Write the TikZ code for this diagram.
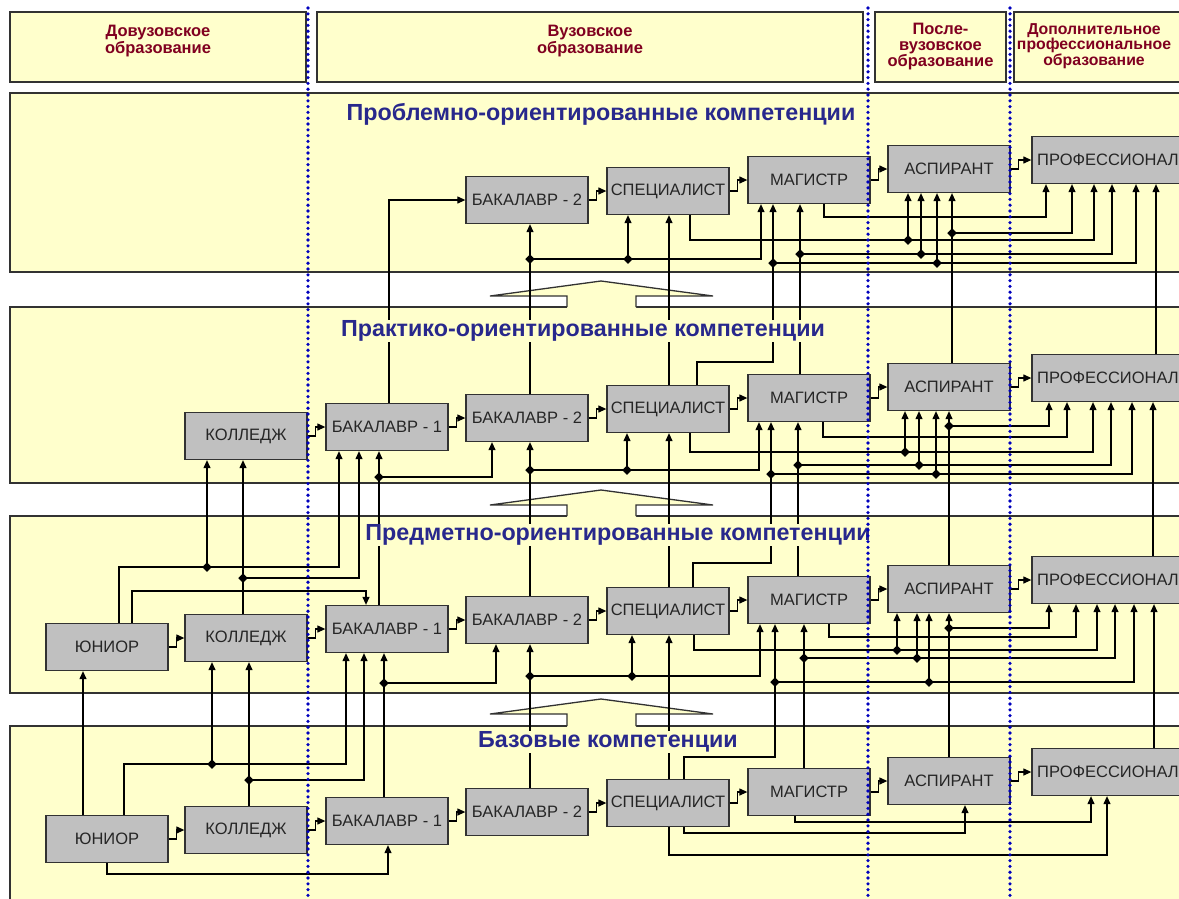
\documentclass[tikz,border=0pt]{standalone}
\usepackage{fontspec}
\setmainfont{Liberation Sans}
\usetikzlibrary{arrows.meta,shapes.geometric}

\definecolor{bandfill}{RGB}{255,255,204}
\definecolor{boxfill}{RGB}{192,192,192}
\definecolor{edge}{RGB}{50,50,50}
\definecolor{hdrred}{RGB}{128,0,32}
\definecolor{titleblue}{RGB}{40,40,140}
\definecolor{dotblue}{RGB}{0,0,190}

\tikzset{
  band/.style={draw=edge,line width=1.4pt,fill=bandfill},
  hdrbox/.style={draw=edge,line width=1.4pt,fill=bandfill,minimum height=70pt,inner sep=0pt},
  hdrtext/.style={font=\bfseries\fontsize{16.5}{15.5}\selectfont,text=hdrred,align=center,anchor=north,inner sep=0pt},
  stage/.style={draw=edge,line width=1.3pt,fill=boxfill,minimum width=122pt,minimum height=47pt,
    inner sep=0pt,text=black!85,font=\fontsize{16.5}{18}\selectfont},
  link/.style={line width=1.2pt,-{Triangle[length=8pt,width=7pt]}},
  junc/.style={diamond,fill=black,inner sep=0pt,minimum size=10pt},
  bandtitle/.style={font=\bfseries\fontsize{23.3}{25}\selectfont,text=titleblue,fill=bandfill,inner sep=1pt},
  sepline/.style={dotblue,line width=3.6pt,line cap=round,dash pattern=on 0pt off 5.8pt},
}

\begin{document}
\begin{tikzpicture}[x=1pt,y=-1pt]
\useasboundingbox (0,0) rectangle (1179,898);
\clip (0,0) rectangle (1179,898);
\fill[white] (0,0) rectangle (1179,898);

% Header row
\node[hdrbox,minimum width=296pt] (pre) at (158,47) {};
\node[hdrbox,minimum width=546pt] (uni) at (590,47) {};
\node[hdrbox,minimum width=131pt] (post) at (940.5,47) {};
\node[hdrbox,minimum width=174pt] (extra) at (1101,47) {};
\node[hdrtext] at (pre.north |- 0,25) {Довузовское\\образование};
\node[hdrtext] at (uni.north |- 0,25) {Вузовское\\образование};
\node[hdrtext] at (post.north |- 0,23) {После-\\вузовское\\образование};
\node[hdrtext,font=\bfseries\fontsize{15.8}{15.5}\selectfont] at (1094,23)
  {Дополнительное\\профессиональное\\образование};

% Competence bands
\foreach \top/\bot in {93/272,307/483,516/693,726/910}
  \draw[band] (10,\top) rectangle (1195,\bot);

% Hollow arrows between bands
\foreach \tip/\base in {281/307,490/516,699/726}{
  \fill[bandfill] (490,\tip+15) -- (601,\tip) -- (713,\tip+15) -- (636,\tip+15)
    -- (636,\base+1) -- (567,\base+1) -- (567,\tip+15) -- cycle;
  \draw[edge,line width=1.3pt] (567,\base) -- (567,\tip+15) -- (490,\tip+15) -- (601,\tip)
    -- (713,\tip+15) -- (636,\tip+15) -- (636,\base);
}

% Stages
\foreach \band/\y in {a/200,b/418,c/620,d/812}{
  \node[stage] (bak2-\band) at (527,\y) {БАКАЛАВР - 2};
  \node[stage] (spec-\band) at (668,\y-9) {СПЕЦИАЛИСТ};
  \node[stage] (mag-\band) at (809,\y-20) {МАГИСТР};
  \node[stage] (asp-\band) at (949,\y-31) {АСПИРАНТ};
  \node[stage,minimum width=152pt] (prof-\band) at (1108,\y-40) {ПРОФЕССИОНАЛ};
}
\foreach \band/\y in {b/418,c/620,d/812}{
  \node[stage] (bak1-\band) at (387,\y+9) {БАКАЛАВР - 1};
  \node[stage] (col-\band) at (246,\y+18) {КОЛЛЕДЖ};
}
\foreach \band/\y in {c/620,d/812}
  \node[stage] (jun-\band) at (107,\y+27) {ЮНИОР};

% Steps inside a band
\foreach \band in {a,b,c,d}
  \foreach \src/\dst in {bak2/spec,spec/mag,mag/asp,asp/prof}
    \draw[link] (\src-\band.east) -- ++(8,0) |- (\dst-\band.west);
\foreach \band in {b,c,d}
  \foreach \src/\dst in {col/bak1,bak1/bak2}
    \draw[link] (\src-\band.east) -- ++(8,0) |- (\dst-\band.west);
\foreach \band in {c,d}
  \draw[link] (jun-\band.east) -- ++(8,0) |- (col-\band.west);

% Problem-oriented band
\draw[link] (bak1-b.north -| 389,0) |- (bak2-a.west);
\draw[link] (bak2-b.north -| 530,0) -- (bak2-a.south -| 530,0);
\draw[link] (530,259) node[junc]{} -| (spec-a.south -| 628,0);
\draw[link] (628,259) node[junc]{} -| (mag-a.south -| 761,0);
\draw[link] (spec-b.north -| 669,0) -- (spec-a.south -| 669,0);
\draw[link] (spec-b.north -| 697,0) |- (773,362) -- (mag-a.south -| 773,0);
\draw[link] (773,263) node[junc]{} -| (asp-a.south -| 937,0);
\draw[link] (937,263) node[junc]{} -| (prof-a.south -| 1136,0);
\draw[link] (mag-b.north -| 800,0) -- (mag-a.south -| 800,0);
\draw[link] (800,254) node[junc]{} -| (asp-a.south -| 921,0);
\draw[link] (921,254) node[junc]{} -| (prof-a.south -| 1112,0);
\draw[link] (asp-b.north -| 952,0) -- (asp-a.south -| 952,0);
\draw[link] (952,233) node[junc]{} -| (prof-a.south -| 1072,0);
\draw[link] (prof-b.north -| 1156,0) -- (prof-a.south -| 1156,0);
\draw[link] (mag-a.south -| 824,0) |- (1046,217) -- (prof-a.south -| 1046,0);
\draw[link] (spec-a.south -| 690,0) |- (1094,240) -- (prof-a.south -| 1094,0);
\draw[link] (908,240) node[junc]{} -- (asp-a.south -| 908,0);

% Practice-oriented band
\draw[link] (asp-c.north -| 949,0) -- (asp-b.south -| 949,0);
\draw[link] (949,426) node[junc]{} -| (prof-b.south -| 1049,0);
\draw[link] (mag-b.south -| 823,0) |- (1067,437) -- (prof-b.south -| 1067,0);
\draw[link] (spec-b.south -| 690,0) |- (1093,452) -- (prof-b.south -| 1093,0);
\draw[link] (905,452) node[junc]{} -- (asp-b.south -| 905,0);
\draw[link] (mag-c.north -| 798,0) -- (mag-b.south -| 798,0);
\draw[link] (798,465) node[junc]{} -| (asp-b.south -| 919,0);
\draw[link] (919,465) node[junc]{} -| (prof-b.south -| 1111,0);
\draw[link] (bak2-c.north -| 530,0) -- (bak2-b.south -| 530,0);
\draw[link] (530,470) node[junc]{} -| (spec-b.south -| 627,0);
\draw[link] (627,470) node[junc]{} -| (mag-b.south -| 759,0);
\draw[link] (spec-c.north -| 669,0) -- (spec-b.south -| 669,0);
\draw[link] (spec-c.north -| 693,0) |- (771,563) -- (mag-b.south -| 771,0);
\draw[link] (771,474) node[junc]{} -| (asp-b.south -| 936,0);
\draw[link] (936,474) node[junc]{} -| (prof-b.south -| 1132,0);
\draw[link] (prof-c.north -| 1153,0) -- (prof-b.south -| 1153,0);
\draw[link] (bak1-c.north -| 379,0) -- (bak1-b.south -| 379,0);
\draw[link] (379,477) node[junc]{} -| (bak2-b.south -| 492,0);
\draw[link] (col-c.north -| 243,0) -- (col-b.south -| 243,0);
\draw[link] (243,578) node[junc]{} -| (bak1-b.south -| 359,0);
\draw[link] (jun-c.north -| 119,0) |- (339,567) -- (bak1-b.south -| 339,0);
\draw[link] (207,567) node[junc]{} -- (col-b.south -| 207,0);
\draw[link] (jun-c.north -| 132,0) |- (366,591) -- (bak1-c.north -| 366,0);

% Subject-oriented band
\draw[link] (asp-d.north -| 949,0) -- (asp-c.south -| 949,0);
\draw[link] (949,628) node[junc]{} -| (prof-c.south -| 1049,0);
\draw[link] (mag-c.south -| 829,0) |- (1076,637) -- (prof-c.south -| 1076,0);
\draw[link] (spec-c.south -| 694,0) |- (1097,650) -- (prof-c.south -| 1097,0);
\draw[link] (897,650) node[junc]{} -- (asp-c.south -| 897,0);
\draw[link] (mag-d.north -| 804,0) -- (mag-c.south -| 804,0);
\draw[link] (804,658) node[junc]{} -| (asp-c.south -| 917,0);
\draw[link] (917,658) node[junc]{} -| (prof-c.south -| 1115,0);
\draw[link] (bak2-d.north -| 530,0) -- (bak2-c.south -| 530,0);
\draw[link] (530,676) node[junc]{} -| (spec-c.south -| 632,0);
\draw[link] (632,676) node[junc]{} -| (mag-c.south -| 760,0);
\draw[link] (spec-d.north -| 669,0) -- (spec-c.south -| 669,0);
\draw[link] (spec-d.north -| 684,0) |- (775,757) -- (mag-c.south -| 775,0);
\draw[link] (775,682) node[junc]{} -| (asp-c.south -| 929,0);
\draw[link] (929,682) node[junc]{} -| (prof-c.south -| 1134,0);
\draw[link] (prof-d.north -| 1154,0) -- (prof-c.south -| 1154,0);
\draw[link] (bak1-d.north -| 384,0) -- (bak1-c.south -| 384,0);
\draw[link] (384,683) node[junc]{} -| (bak2-c.south -| 496,0);
\draw[link] (col-d.north -| 249,0) -- (col-c.south -| 249,0);
\draw[link] (249,780) node[junc]{} -| (bak1-c.south -| 364,0);
\draw[link] (jun-d.north -| 124,0) |- (346,764) -- (bak1-c.south -| 346,0);
\draw[link] (212,764) node[junc]{} -- (col-c.south -| 212,0);
\draw[link] (jun-d.north -| 83,0) -- (jun-c.south -| 83,0);

% Base band
\draw[link] (jun-d.south -| 107,0) |- (388,874) -- (bak1-d.south -| 388,0);
\draw[link] (spec-d.south -| 684,0) |- (965,833) -- (asp-d.south -| 965,0);
\draw[link] (mag-d.south -| 795,0) |- (1091,822) -- (prof-d.south -| 1091,0);
\draw[link] (spec-d.south -| 669,0) |- (1107,855) -- (prof-d.south -| 1107,0);

% Band titles
\node[bandtitle] (title-a) at (601,114) {Проблемно-ориентированные компетенции};
\node[bandtitle] (title-b) at (583,331) {Практико-ориентированные компетенции};
\node[bandtitle] (title-c) at (618,535) {Предметно-ориентированные компетенции};
\node[bandtitle] (title-d) at (608,742) {Базовые компетенции};

% Dotted separators
\foreach \x in {308,868,1010}
  \draw[sepline] (\x,8) -- (\x,898);
\end{tikzpicture}
\end{document}
